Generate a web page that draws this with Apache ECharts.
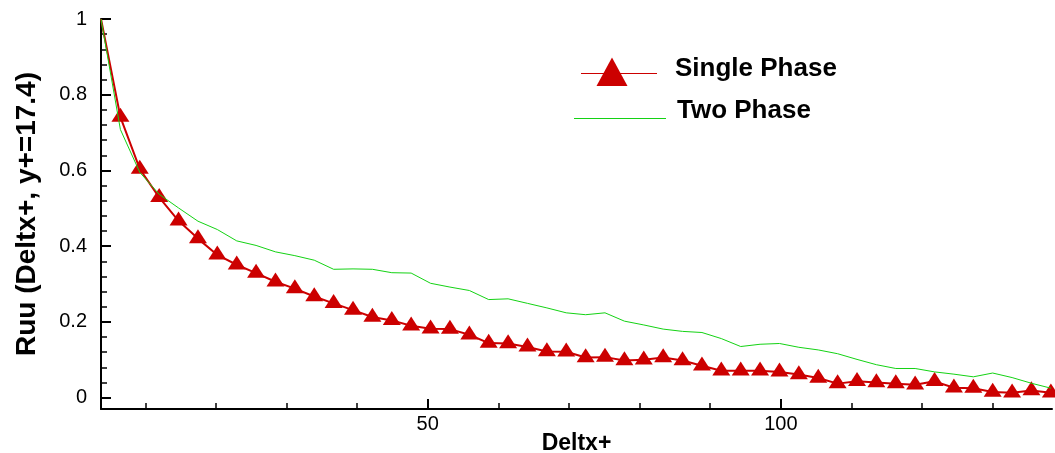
<!DOCTYPE html>
<html>
<head>
<meta charset="utf-8">
<script src="https://cdn.jsdelivr.net/npm/echarts@6/dist/echarts.min.js"></script>
<style>
  html, body { margin: 0; padding: 0; background: #fff; }
  #chart { width: 1055px; height: 453px; }
</style>
</head>
<body>
<div id="chart"></div>
<script>
// Streamwise separation Deltx+ of the sampled points
const deltx = [3.73, 6.48, 9.22, 11.97, 14.71, 17.46, 20.2, 22.95, 25.69, 28.44,
  31.18, 33.93, 36.67, 39.42, 42.16, 44.91, 47.65, 50.4, 53.14, 55.89,
  58.63, 61.38, 64.12, 66.87, 69.61, 72.36, 75.1, 77.85, 80.59, 83.34,
  86.08, 88.83, 91.57, 94.32, 97.06, 99.81, 102.55, 105.3, 108.04, 110.79,
  113.53, 116.28, 119.02, 121.77, 124.51, 127.26, 130.0, 132.75, 135.49, 138.24];

// Two-point correlation Ruu at y+ = 17.4
const singlePhase = [1.0, 0.741, 0.604, 0.529, 0.467, 0.420, 0.377, 0.351, 0.329, 0.306,
  0.288, 0.267, 0.249, 0.231, 0.213, 0.204, 0.190, 0.182, 0.181, 0.166,
  0.144, 0.143, 0.134, 0.122, 0.121, 0.106, 0.107, 0.098, 0.100, 0.106,
  0.098, 0.084, 0.071, 0.071, 0.071, 0.068, 0.061, 0.052, 0.037, 0.043,
  0.040, 0.037, 0.034, 0.043, 0.026, 0.025, 0.015, 0.013, 0.019, 0.013];

const twoPhase = [1.0, 0.708, 0.595, 0.537, 0.501, 0.466, 0.444, 0.414, 0.402, 0.385,
  0.375, 0.363, 0.339, 0.340, 0.339, 0.330, 0.329, 0.302, 0.292, 0.283,
  0.259, 0.261, 0.249, 0.237, 0.224, 0.219, 0.224, 0.202, 0.192, 0.181,
  0.175, 0.172, 0.156, 0.135, 0.141, 0.143, 0.133, 0.126, 0.116, 0.101,
  0.087, 0.077, 0.077, 0.068, 0.062, 0.055, 0.065, 0.053, 0.038, 0.025];

// Axis ticks
const xLabelTicks = [50, 100];
const xMinorTicks = [10, 20, 30, 40, 60, 70, 80, 90, 110, 120, 130];
const yLabelTicks = [0, 0.2, 0.4, 0.6, 0.8, 1];
const yMinorTicks = [0.04, 0.08, 0.12, 0.16, 0.24, 0.28, 0.32, 0.36, 0.44, 0.48,
  0.52, 0.56, 0.64, 0.68, 0.72, 0.76, 0.84, 0.88, 0.92, 0.96];

const seriesNames = ['Single Phase', 'Two Phase'];
const xName = 'Deltx+';
const yName = 'Ruu (Deltx+, y+=17.4)';

const RED = '#cc0000';
const GREEN = '#14d214';
const FONT = "'Liberation Sans', Arial, Helvetica, sans-serif";

const singleData = deltx.map((x, i) => i === 0
  ? { value: [x, singlePhase[i]], symbol: 'none' }
  : [x, singlePhase[i]]);
const twoData = deltx.map((x, i) => [x, twoPhase[i]]);

const xMin = deltx[0], xMax = 138.4, yMin = -0.03, yMax = 1;

const baseX = {
  type: 'value', min: xMin, max: xMax, splitLine: { show: false }, position: 'bottom'
};
const baseY = {
  type: 'value', min: yMin, max: yMax, splitLine: { show: false }, position: 'left'
};

const chart = echarts.init(document.getElementById('chart'), null, { renderer: 'canvas' });
chart.setOption({
  animation: false,
  backgroundColor: '#ffffff',
  grid: { left: 101, right: 3, top: 19, bottom: 44, containLabel: false, outerBoundsMode: 'none' },
  xAxis: [
    Object.assign({}, baseX, {
      name: xName,
      nameLocation: 'middle',
      nameGap: 23,
      nameMoveOverlap: false,
      nameTextStyle: { fontFamily: FONT, fontWeight: 'bold', fontSize: 23, color: '#000' },
      axisLine: { show: true, onZero: false, lineStyle: { color: '#000', width: 2 } },
      axisTick: { show: true, inside: true, length: 10, customValues: xLabelTicks,
        lineStyle: { color: '#000', width: 2 } },
      axisLabel: { show: true, customValues: xLabelTicks, margin: 5,
        fontFamily: FONT, fontSize: 20, color: '#000' }
    }),
    Object.assign({}, baseX, {
      axisLine: { show: false, onZero: false },
      axisTick: { show: true, inside: true, length: 6, customValues: xMinorTicks,
        lineStyle: { color: '#000', width: 1.5 } },
      axisLabel: { show: false }
    })
  ],
  yAxis: [
    Object.assign({}, baseY, {
      name: yName,
      nameLocation: 'middle',
      nameGap: 60,
      nameMoveOverlap: false,
      nameTextStyle: { fontFamily: FONT, fontWeight: 'bold', fontSize: 28, color: '#000' },
      axisLine: { show: true, onZero: false, lineStyle: { color: '#000', width: 2 } },
      axisTick: { show: true, inside: true, length: 10, customValues: yLabelTicks,
        lineStyle: { color: '#000', width: 2 } },
      axisLabel: { show: true, customValues: yLabelTicks, margin: 14,
        fontFamily: FONT, fontSize: 20, color: '#000' }
    }),
    Object.assign({}, baseY, {
      axisLine: { show: false, onZero: false },
      axisTick: { show: true, inside: true, length: 6, customValues: yMinorTicks,
        lineStyle: { color: '#000', width: 1.5 } },
      axisLabel: { show: false }
    })
  ],
  series: [
    {
      name: seriesNames[0],
      type: 'line',
      data: singleData,
      xAxisIndex: 0, yAxisIndex: 0,
      symbol: 'triangle',
      symbolSize: [18, 14],
      symbolOffset: [0, -2.3],
      showAllSymbol: true,
      lineStyle: { color: RED, width: 2 },
      itemStyle: { color: RED },
      z: 2
    },
    {
      name: seriesNames[1],
      type: 'line',
      data: twoData,
      xAxisIndex: 0, yAxisIndex: 0,
      symbol: 'none',
      lineStyle: { color: GREEN, width: 1 },
      itemStyle: { color: GREEN },
      z: 3
    }
  ],
  // Key for the two series
  graphic: [
    { type: 'line', shape: { x1: 581, y1: 73.5, x2: 657, y2: 73.5 },
      style: { stroke: RED, lineWidth: 1.2 } },
    { type: 'polygon', shape: { points: [[612, 57.5], [627.5, 86], [596.5, 86]] },
      style: { fill: RED } },
    { type: 'text', left: 675, top: 56,
      style: { text: seriesNames[0], font: "bold 26px " + FONT, fill: '#000' } },
    { type: 'line', shape: { x1: 574, y1: 118.5, x2: 666, y2: 118.5 },
      style: { stroke: GREEN, lineWidth: 1.2 } },
    { type: 'text', left: 677, top: 98,
      style: { text: seriesNames[1], font: "bold 26px " + FONT, fill: '#000' } }
  ]
});
</script>
</body>
</html>
